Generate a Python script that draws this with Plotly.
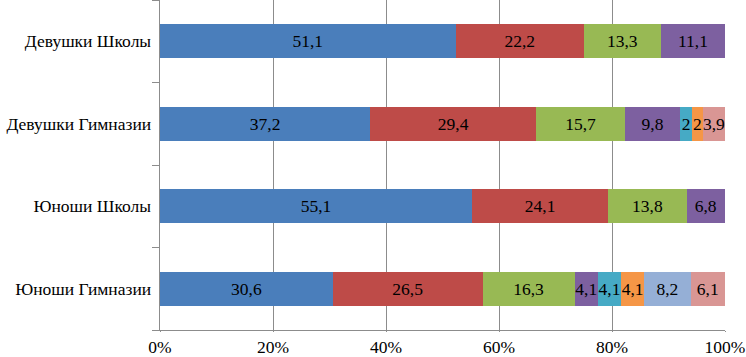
import plotly.graph_objects as go

categories = ["Юноши Гимназии", "Юноши Школы", "Девушки Гимназии", "Девушки Школы"]

s1 = [30.6, 55.1, 37.2, 51.1]
s2 = [26.5, 24.1, 29.4, 22.2]
s3 = [16.3, 13.8, 15.7, 13.3]
s4 = [4.1, 6.8, 9.8, 11.1]
s5 = [4.1, None, 2, None]
s6 = [4.1, None, 2, None]
s7 = [8.2, None, None, None]
s8 = [6.1, None, 3.9, None]

series = [s1, s2, s3, s4, s5, s6, s7, s8]
colors = ["#4A7EBB", "#BE4B48", "#98B954", "#7D60A0", "#46AAC5", "#F59646", "#95AFD6", "#D99694"]

tick_vals = [0, 20, 40, 60, 80, 100]
tick_text = ["0%", "20%", "40%", "60%", "80%", "100%"]

FONT = "Times New Roman"
FS = 17.5


def fmt(v):
    if v is None:
        return ""
    return ("%g" % v).replace(".", ",")


fig = go.Figure()
for vals, col in zip(series, colors):
    fig.add_trace(go.Bar(
        y=categories,
        x=[v if v is not None else 0 for v in vals],
        orientation="h",
        marker=dict(color=col, line=dict(width=0)),
        text=[fmt(v) for v in vals],
        textposition="inside",
        insidetextanchor="middle",
        textangle=0,
        constraintext="none",
        textfont=dict(family=FONT, size=FS, color="black"),
        hoverinfo="skip",
        showlegend=False,
    ))

fig.update_layout(
    barmode="stack",
    barnorm="percent",
    bargap=0.59,
    width=746,
    height=357,
    margin=dict(l=160, r=21, t=0, b=27, autoexpand=False),
    paper_bgcolor="white",
    plot_bgcolor="white",
    uniformtext=dict(minsize=FS, mode="show"),
    font=dict(family=FONT, size=FS, color="black"),
    xaxis=dict(
        range=[0, 100],
        tickvals=tick_vals,
        ticktext=tick_text,
        showgrid=True,
        gridcolor="#8C8C8C",
        gridwidth=1,
        showline=True,
        linecolor="#8C8C8C",
        ticks="outside",
        ticklen=1,
        tickcolor="#8C8C8C",
        zeroline=False,
        automargin=False,
        tickfont=dict(family=FONT, size=FS, color="black"),
        fixedrange=True,
    ),
    yaxis=dict(
        categoryorder="array",
        categoryarray=categories,
        showline=True,
        linecolor="#8C8C8C",
        ticks="outside",
        ticklen=7,
        tickcolor="#8C8C8C",
        tickson="boundaries",
        showgrid=False,
        automargin=False,
        tickfont=dict(family=FONT, size=FS, color="black"),
        ticksuffix=" ",
        fixedrange=True,
    ),
)

fig.write_html(
    "out.html",
    config={"displayModeBar": False},
    post_script="document.body.style.margin='0px';document.body.style.overflow='hidden';",
)
